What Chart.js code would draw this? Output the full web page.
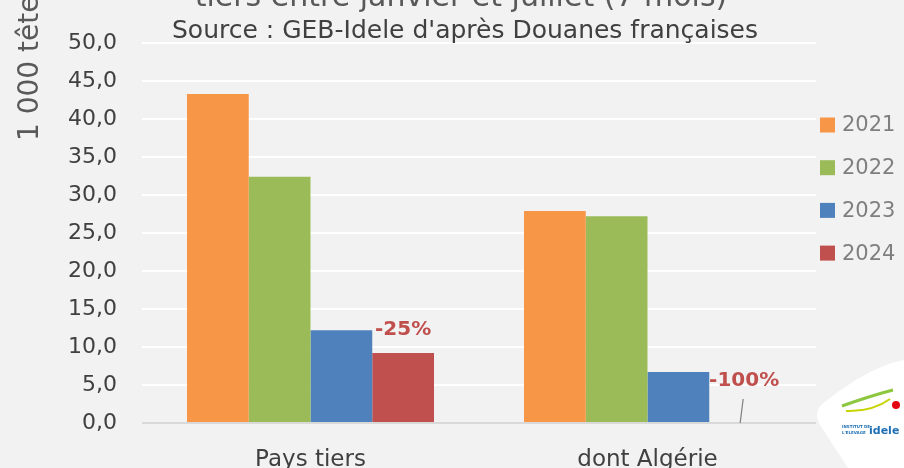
<!DOCTYPE html>
<html>
<head>
<meta charset="utf-8">
<script src="https://cdn.jsdelivr.net/npm/chart.js@4"></script>
<style>
  html, body { margin: 0; padding: 0; background: #f2f2f2; }
  #wrap { width: 904px; height: 468px; }
</style>
</head>
<body>
<div id="wrap"><canvas id="chart" width="904" height="468"></canvas></div>
<script>
// values (1 000 têtes)
const categories = ['Pays tiers', 'dont Algérie'];
const years = ['2021', '2022', '2023', '2024'];
const values2021 = [43.3, 27.9];
const values2022 = [32.4, 27.2];
const values2023 = [12.2, 6.7];
const values2024 = [9.2, 0];
const changeLabels = ['-25%', '-100%'];
const colors = ['#f79646', '#9bbb59', '#4f81bd', '#c0504d'];

const FONT = "'DejaVu Sans', sans-serif";

// title, subtitle, axis title, legend, annotations, logo
const decor = {
    id: 'decor',
    afterDraw(chart) {
        const ctx = chart.ctx;
        ctx.save();

        // title (top cut off in the reference)
        ctx.fillStyle = '#595959';
        ctx.font = '30px ' + FONT;
        ctx.textAlign = 'center';
        ctx.textBaseline = 'alphabetic';
        ctx.fillText('tiers entre janvier et juillet (7 mois)', 461, 6);

        // subtitle
        ctx.fillStyle = '#404040';
        ctx.font = '25px ' + FONT;
        ctx.textBaseline = 'middle';
        ctx.fillText("Source : GEB-Idele d'après Douanes françaises", 465, 31);

        // y axis title
        ctx.save();
        ctx.translate(31, 141);
        ctx.rotate(-Math.PI / 2);
        ctx.textAlign = 'left';
        ctx.fillStyle = '#595959';
        ctx.font = '28px ' + FONT;
        ctx.fillText('1 000 têtes', 0, 0);
        ctx.restore();

        // legend
        chart.data.datasets.forEach((ds, i) => {
            const y = 125 + i * 42.7;
            ctx.fillStyle = ds.backgroundColor;
            ctx.fillRect(820, y - 7.5, 15, 15);
            ctx.fillStyle = '#7f7f7f';
            ctx.font = '21px ' + FONT;
            ctx.textAlign = 'left';
            ctx.fillText(ds.label, 842, y + 1);
        });

        // change labels above the 2024 bars
        const meta = chart.getDatasetMeta(3);
        ctx.fillStyle = '#c0504d';
        ctx.font = 'bold 20px ' + FONT;
        ctx.textAlign = 'center';
        meta.data.forEach((bar, i) => {
            const off = i === 0 ? 23 : 42;
            ctx.fillText(changeLabels[i], bar.x + 4 * i, bar.y - off);
        });
        // leader line for -100%
        const b = meta.data[1];
        ctx.strokeStyle = '#7f7f7f';
        ctx.lineWidth = 1.2;
        ctx.beginPath();
        ctx.moveTo(b.x + 3, b.y - 24);
        ctx.lineTo(b.x, b.y);
        ctx.stroke();

        // logo
        ctx.fillStyle = '#ffffff';
        ctx.beginPath();
        ctx.moveTo(904, 360);
        ctx.quadraticCurveTo(870, 366, 822, 404);
        ctx.quadraticCurveTo(812, 414, 822, 428);
        ctx.lineTo(848, 468);
        ctx.lineTo(904, 468);
        ctx.closePath();
        ctx.fill();
        ctx.strokeStyle = '#8dc63f';
        ctx.lineWidth = 3;
        ctx.beginPath();
        ctx.moveTo(842, 406);
        ctx.quadraticCurveTo(870, 396, 893, 390);
        ctx.stroke();
        ctx.strokeStyle = '#c8d400';
        ctx.lineWidth = 2;
        ctx.beginPath();
        ctx.moveTo(846, 411);
        ctx.quadraticCurveTo(872, 412, 890, 399);
        ctx.stroke();
        ctx.fillStyle = '#e30613';
        ctx.beginPath();
        ctx.arc(896, 405, 4, 0, Math.PI * 2);
        ctx.fill();
        ctx.fillStyle = '#1f6fb5';
        ctx.font = 'bold 11px ' + FONT;
        ctx.textAlign = 'left';
        ctx.fillText('idele', 869, 431);
        ctx.font = 'bold 4px ' + FONT;
        ctx.fillText('INSTITUT DE', 842, 427);
        ctx.fillText("L'ELEVAGE", 842, 433);

        ctx.restore();
    }
};

new Chart(document.getElementById('chart'), {
    type: 'bar',
    data: {
        labels: categories,
        datasets: [
            { label: years[0], data: values2021, backgroundColor: colors[0] },
            { label: years[1], data: values2022, backgroundColor: colors[1] },
            { label: years[2], data: values2023, backgroundColor: colors[2] },
            { label: years[3], data: values2024, backgroundColor: colors[3] }
        ]
    },
    options: {
        responsive: false,
        animation: false,
        layout: { padding: { top: 43, right: 88, left: 0, bottom: 0 } },
        datasets: {
            bar: { categoryPercentage: 0.733, barPercentage: 1.0 }
        },
        plugins: {
            legend: { display: false },
            tooltip: { enabled: false }
        },
        scales: {
            x: {
                grid: { display: false },
                border: { display: false },
                ticks: {
                    color: '#404040',
                    font: { family: FONT, size: 23 },
                    padding: 15
                },
                afterFit(scale) { scale.height = 45; }
            },
            y: {
                min: 0,
                max: 50,
                border: { display: false },
                grid: {
                    color: c => c.tick.value === 0 ? '#d9d9d9' : '#ffffff',
                    lineWidth: 2,
                    drawTicks: false
                },
                ticks: {
                    stepSize: 5,
                    color: '#404040',
                    font: { family: FONT, size: 22 },
                    padding: 25,
                    callback: v => v.toFixed(1).replace('.', ',')
                },
                afterFit(scale) { scale.width = 142; }
            }
        }
    },
    plugins: [decor]
});
</script>
</body>
</html>
